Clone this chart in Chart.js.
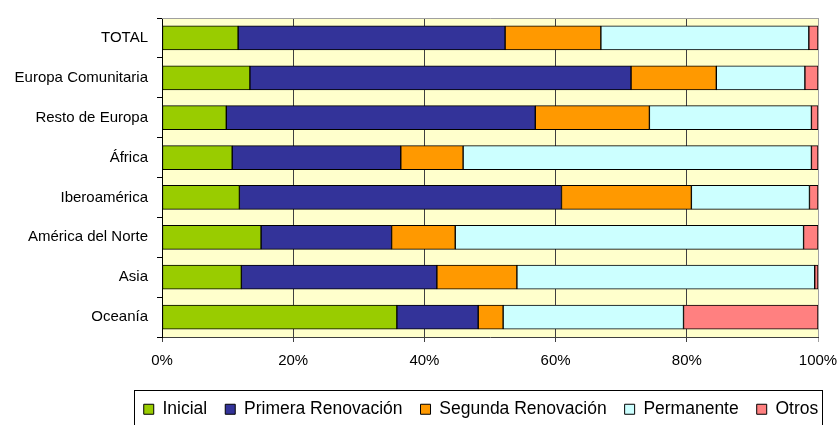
<!DOCTYPE html>
<html lang="es">
<head>
<meta charset="UTF-8">
<title>Renovaciones por origen</title>
<script src="https://cdn.jsdelivr.net/npm/chart.js"></script>
<style>
  html, body { margin: 0; padding: 0; background: #fff; }
  #wrap { width: 838px; height: 425px; }
</style>
</head>
<body>
<div id="wrap"><canvas id="chart" width="838" height="425"></canvas></div>
<script>
// categories (top to bottom)
const regiones = ['TOTAL', 'Europa Comunitaria', 'Resto de Europa', 'África', 'Iberoamérica',
                  'América del Norte', 'Asia', 'Oceanía'];

// shares in %
const inicial    = [11.6, 13.4,  9.8, 10.7, 11.8, 15.1, 12.1, 35.8];
const primera    = [40.7, 58.1, 47.1, 25.7, 49.1, 19.9, 29.8, 12.4];
const segunda    = [14.6, 13.0, 17.4,  9.5, 19.8,  9.7, 12.2,  3.8];
const permanente = [31.7, 13.5, 24.7, 53.1, 18.0, 53.1, 45.4, 27.5];
const otros      = [ 1.4,  2.0,  1.0,  1.0,  1.3,  2.2,  0.5, 20.5];

const xTicks = [0, 20, 40, 60, 80, 100];

const series = [
  { label: 'Inicial', data: inicial, color: '#99CC00' },
  { label: 'Primera Renovación', data: primera, color: '#333399' },
  { label: 'Segunda Renovación', data: segunda, color: '#FF9900' },
  { label: 'Permanente', data: permanente, color: '#CCFFFF' },
  { label: 'Otros', data: otros, color: '#FF8080' }
];

Chart.defaults.font.family = '"Liberation Sans", Arial, sans-serif';
Chart.defaults.color = '#000';

// yellow plot background, grey top border, box around the legend
const frame = {
  id: 'frame',
  afterLayout(chart) {
    // the legend sits right of centre in the original
    const lg = chart.legend;
    lg.left = chart.chartArea.left - 38;
    lg.right = chart.width;
    lg.top += 3;
    lg.bottom += 3;
  },
  beforeDraw(chart) {
    const { ctx, chartArea: a } = chart;
    ctx.save();
    ctx.fillStyle = '#FFFFCC';
    ctx.fillRect(a.left, a.top, a.right - a.left, a.bottom - a.top);
    ctx.restore();
  },
  afterDraw(chart) {
    const { ctx, chartArea: a } = chart;
    ctx.save();
    ctx.strokeStyle = '#A0A0A0';
    ctx.lineWidth = 1;
    ctx.beginPath();
    ctx.moveTo(a.left, a.top + 0.5);
    ctx.lineTo(a.right + 0.5, a.top + 0.5);
    ctx.lineTo(a.right + 0.5, a.bottom);
    ctx.stroke();

    const boxes = chart.legend.legendHitBoxes;
    if (boxes && boxes.length) {
      const first = boxes[0], last = boxes[boxes.length - 1];
      const l = Math.round(first.left) - 9.5;
      const r = Math.round(last.left + last.width) + 4.5;
      const t = Math.round(first.top) - 10.5;
      ctx.strokeStyle = '#000';
      ctx.strokeRect(l, t, r - l, chart.height + 10 - t);
    }
    ctx.restore();
  }
};

new Chart(document.getElementById('chart'), {
  type: 'bar',
  data: {
    labels: regiones,
    datasets: series.map(s => ({
      label: s.label,
      data: s.data,
      backgroundColor: s.color,
      borderColor: '#000',
      borderWidth: 1,
      borderSkipped: false,
      barThickness: 24
    }))
  },
  options: {
    indexAxis: 'y',
    responsive: false,
    animation: false,
    layout: { padding: { top: 17, right: 0, left: 0, bottom: 0 } },
    plugins: {
      tooltip: { enabled: false },
      legend: {
        position: 'bottom',
        labels: {
          boxWidth: 10,
          boxHeight: 10,
          padding: 18,
          font: { size: 17.5 },
          color: '#000'
        }
      }
    },
    scales: {
      x: {
        stacked: true,
        min: 0,
        max: 100,
        afterBuildTicks: scale => { scale.ticks = xTicks.map(v => ({ value: v })); },
        afterFit: scale => {
          scale.height = 42.5;
          scale.paddingRight = 20;
          scale.paddingLeft = 0;
        },
        ticks: {
          padding: 10,
          font: { size: 15 },
          callback: v => v + '%'
        },
        grid: {
          color: ctx => ctx.tick && ctx.tick.value === 100 ? '#A0A0A0' : '#404040',
          lineWidth: 1,
          tickLength: 5
        },
        border: { color: '#404040', width: 1 }
      },
      y: {
        stacked: true,
        afterFit: scale => { scale.width = 162; },
        ticks: {
          padding: 9,
          font: { size: 15 }
        },
        grid: {
          drawOnChartArea: false,
          color: '#000',
          tickLength: 5
        },
        border: { color: '#000', width: 1 }
      }
    }
  },
  plugins: [frame]
});
</script>
</body>
</html>
